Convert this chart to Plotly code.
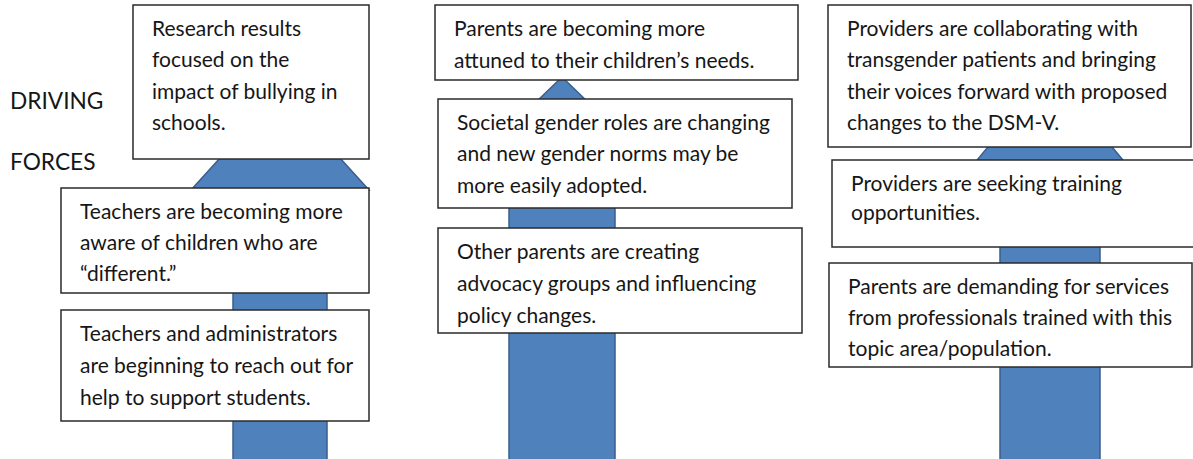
import plotly.graph_objects as go

# ---- content ----
side_labels = ["DRIVING", "FORCES"]

box_texts = [
    ["Research results", "focused on the", "impact of bullying in", "schools."],
    ["Teachers are becoming more", "aware of children who are", "\u201cdifferent.\u201d"],
    ["Teachers and administrators", "are beginning to reach out for", "help to support students."],
    ["Parents are becoming more", "attuned to their children\u2019s needs."],
    ["Societal gender roles are changing", "and new gender norms may be", "more easily adopted."],
    ["Other parents are creating", "advocacy groups and influencing", "policy changes."],
    ["Providers are collaborating with", "transgender patients and bringing", "their voices forward with proposed", "changes to the DSM-V."],
    ["Providers are seeking training", "opportunities."],
    ["Parents are demanding for services", "from professionals trained with this", "topic area/population."],
]

# ---- layout geometry (pixel space) ----
W, H = 1193, 459
box_geom = [  # x0, y0, x1, y1
    (133, 5, 369, 159),
    (61, 188, 369, 293),
    (61, 310, 369, 421),
    (435, 5, 798, 80),
    (438, 99, 792, 208),
    (438, 228, 802, 333),
    (828, 5, 1191, 147),
    (832, 160, 1196, 247),
    (829, 263, 1192, 367),
]
line_gap = [31.5, 31, 32, 32.5, 31.5, 32, 31.5, 29.5, 31]

# arrows: centre x, apex y, head base y, head half-width, shaft half-width
arrows = [
    (280, 92, 190, 89, 47),
    (562, 77, 160, 86, 53),
    (1050, 72, 200, 106, 50),
]

FONT = "Lato"
TXT = "#161616"
ARROW_FILL = "#4F81BD"
ARROW_LINE = "#3A5F8B"

fig = go.Figure()
fig.add_trace(go.Scatter(x=[0, W], y=[0, H], mode="markers",
                         marker=dict(opacity=0), hoverinfo="skip", showlegend=False))

shapes = []
for cx, ay, by, hw, sw in arrows:
    path = (f"M {cx},{ay} L {cx+hw},{by} L {cx+sw},{by} L {cx+sw},{H+5} "
            f"L {cx-sw},{H+5} L {cx-sw},{by} L {cx-hw},{by} Z")
    shapes.append(dict(type="path", path=path, fillcolor=ARROW_FILL,
                       line=dict(color=ARROW_LINE, width=1.5), layer="above"))

for (x0, y0, x1, y1) in box_geom:
    shapes.append(dict(type="rect", x0=x0, y0=y0, x1=x1, y1=y1, fillcolor="white",
                       line=dict(color="#2b2b2b", width=1.5), layer="above"))

annotations = []
for (x0, y0, x1, y1), lines, gap in zip(box_geom, box_texts, line_gap):
    for i, ln in enumerate(lines):
        annotations.append(dict(x=x0 + 17, y=y0 + 22 + i * gap, text=ln, showarrow=False,
                                xanchor="left", yanchor="middle",
                                font=dict(family=FONT, size=21, color=TXT)))

for lbl, yy in zip(side_labels, [100, 161]):
    annotations.append(dict(x=8, y=yy, text=lbl, showarrow=False, xanchor="left",
                            yanchor="middle", font=dict(family=FONT, size=22.7, color=TXT)))

fig.update_layout(
    width=W, height=H, margin=dict(l=0, r=0, t=0, b=0),
    paper_bgcolor="white", plot_bgcolor="white",
    xaxis=dict(range=[0, W], visible=False, fixedrange=True),
    yaxis=dict(range=[H, 0], visible=False, fixedrange=True),
    shapes=shapes, annotations=annotations, showlegend=False,
)
fig.write_html("out.html", config={"displayModeBar": False},
               post_script="document.body.style.margin='0';document.body.style.overflow='hidden';")
